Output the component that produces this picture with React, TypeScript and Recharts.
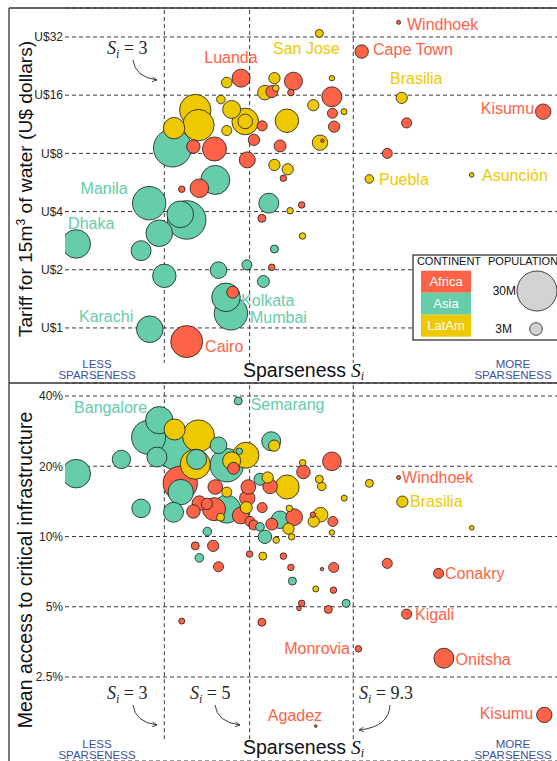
import { ScatterChart, Scatter, XAxis, YAxis, ZAxis, CartesianGrid, ReferenceLine } from 'recharts'

type Continent = 'Africa' | 'Asia' | 'LatAm'
type Row = [number, number, number] // [sparseness, value, population in millions]
type LabelRow = [string, number, number, 'start' | 'middle' | 'end', Continent]

const COLORS: Record<Continent, string> = { Africa: '#FF6347', Asia: '#66CDAA', LatAm: '#EEC900' }
const BLUE = '#3C4F9E'
const INK = '#262626'
const FONT = '"Liberation Sans", Arial, sans-serif'
const MATH = '"Liberation Serif", "DejaVu Serif", serif'

const W = 557
const TOP_H = 383
const BOTTOM_H = 378

const sparsenessDomain = [1.655, 31.5]
const thresholds = [3, 5, 9.3]

const tariffDomain = [0.519, 45.2]
const tariffTicks = [1, 2, 4, 8, 16, 32]
const accessDomain = [1.0915, 45.48]
const accessTicks = [2.5, 5, 10, 20, 40]

const MAX_POP = 30
const MAX_R = 20
const legendPops = [30, 3]

// tariff (U$) panel
const tariffAfrica: Row[] = [
  [12.2, 38.1, 0.3], [9.78, 26.9, 3.4], [4.75, 19.6, 6.1], [6.5, 18.9, 6.1], [6.4, 16.5, 0.8],
  [5.71, 16.7, 2.7], [8.18, 15.7, 7.5], [8.21, 12.9, 1.9], [8.29, 11.0, 2.4], [5.39, 11.1, 1.9],
  [5.13, 9.4, 2.4], [4.93, 7.4, 4.8], [3.57, 8.67, 3.4], [4.05, 8.43, 10.8], [6.0, 8.74, 2.7],
  [7.73, 9.31, 0.22], [6.12, 5.95, 0.8], [3.7, 5.28, 6.5], [3.33, 5.22, 0.8], [5.38, 3.69, 1.2],
  [6.83, 4.33, 0.8], [5.71, 2.06, 0.8], [4.52, 1.53, 2.7], [3.43, 0.85, 19.2], [12.8, 11.5, 1.9],
  [11.4, 8.0, 1.9], [29.0, 13.15, 4.45],
]
const tariffAsia: Row[] = [
  [3.15, 8.53, 27.1], [4.07, 5.83, 15.8], [2.74, 4.42, 20.9], [3.43, 3.62, 27.9], [3.3, 3.87, 13.3],
  [2.91, 3.09, 13.3], [1.77, 2.72, 15.3], [2.61, 2.51, 7.5], [3.0, 1.86, 10.3], [4.15, 1.99, 5.2],
  [4.92, 2.12, 1.9], [4.34, 1.44, 15.3], [4.47, 1.19, 20.9], [2.75, 0.985, 13.3], [5.61, 4.42, 7.5],
  [5.8, 2.56, 1.2], [5.43, 1.74, 2.7],
]
const tariffLatAm: Row[] = [
  [7.59, 33.4, 1.2], [4.36, 18.6, 2.1], [5.8, 19.6, 2.4], [5.48, 16.5, 4.0], [5.85, 17.4, 0.8],
  [8.18, 19.6, 0.55], [4.21, 15.2, 1.4], [3.61, 13.4, 18.5], [3.68, 11.2, 18.5], [3.18, 10.8, 8.6],
  [4.49, 13.5, 6.1], [4.87, 11.7, 13.3], [4.87, 11.7, 4.0], [4.36, 10.5, 1.9], [7.32, 14.2, 2.4],
  [8.8, 13.15, 0.68], [6.25, 11.8, 10.3], [7.62, 9.09, 4.45], [5.8, 6.97, 2.4], [6.28, 6.62, 2.4],
  [10.24, 5.9, 1.4], [18.9, 6.19, 0.4], [12.43, 15.5, 2.4], [6.37, 4.04, 0.8], [6.86, 2.99, 0.8],
]
const tariffLabels: LabelRow[] = [
  ['Windhoek', 12.83, 37.35, 'start', 'Africa'], ['Cape Town', 10.47, 27.74, 'start', 'Africa'],
  ['San Jose', 5.75, 28.07, 'start', 'LatAm'], ['Luanda', 3.81, 25.2, 'start', 'Africa'],
  ['Brasilia', 11.59, 19.64, 'start', 'LatAm'], ['Kisumu', 27.46, 13.74, 'end', 'Africa'],
  ['Puebla', 10.85, 5.9, 'start', 'LatAm'], ['Asunción', 20.11, 6.19, 'start', 'LatAm'],
  ['Manila', 2.41, 5.24, 'end', 'Asia'], ['Dhaka', 1.686, 3.49, 'start', 'Asia'],
  ['Karachi', 2.49, 1.154, 'end', 'Asia'], ['Kolkata', 4.75, 1.39, 'start', 'Asia'],
  ['Mumbai', 5.01, 1.14, 'start', 'Asia'], ['Cairo', 3.83, 0.807, 'start', 'Africa'],
]

// access (%) panel
const accessAfrica: Row[] = [
  [4.54, 19.6, 2.7], [8.18, 21.0, 6.5], [6.9, 18.9, 3.4], [3.3, 16.9, 22], [4.07, 16.3, 4.0],
  [4.96, 16.3, 4.0], [4.93, 14.6, 4.45], [5.39, 13.3, 1.9], [3.7, 13.9, 4.0], [3.87, 13.8, 2.4],
  [3.57, 12.8, 3.4], [4.04, 13.1, 9.9], [4.74, 12.3, 5.2], [5.65, 16.4, 4.0], [5.01, 11.6, 1.9],
  [5.13, 11.2, 1.9], [5.71, 11.3, 2.7], [6.53, 12.1, 5.2], [7.3, 12.4, 0.55], [8.23, 11.6, 1.9],
  [3.61, 9.12, 1.2], [4.02, 9.12, 2.4], [4.15, 7.42, 1.9], [5.0, 8.41, 0.8], [6.12, 8.24, 0.8],
  [6.4, 7.37, 0.8], [7.71, 7.25, 0.22], [8.27, 7.37, 1.9], [8.26, 5.89, 0.8], [6.83, 5.17, 0.8],
  [6.72, 4.92, 0.4], [8.01, 4.87, 1.2], [11.4, 7.67, 1.9], [15.5, 6.95, 1.9], [12.8, 4.65, 1.9],
  [9.59, 3.3, 0.8], [16.0, 3.01, 7.5], [7.43, 1.54, 0.13], [29.2, 1.72, 4.45], [3.33, 4.34, 0.68],
  [5.38, 4.29, 1.2], [12.2, 17.9, 0.3],
]
const accessAsia: Row[] = [
  [4.67, 38.1, 1.2], [1.77, 18.6, 15.3], [2.32, 21.4, 6.3], [2.61, 13.2, 6.5], [2.91, 31.5, 14],
  [2.73, 26.6, 21.7], [2.87, 21.9, 7.5], [3.24, 23.4, 30], [3.64, 21.4, 7.5], [4.15, 24.6, 5.2],
  [4.36, 20.2, 20.9], [4.7, 23.2, 0.8], [5.69, 25.6, 6.8], [3.31, 15.5, 12.1], [3.17, 12.7, 7.5],
  [4.36, 13.1, 14.7], [5.32, 17.6, 2.7], [5.32, 11.0, 1.4], [6.0, 11.8, 5.8], [5.48, 9.97, 3.4],
  [3.88, 10.5, 1.4], [3.7, 8.1, 1.4], [6.46, 6.44, 1.2], [8.91, 5.17, 1.2],
]
const accessLatAm: Row[] = [
  [3.19, 28.75, 8.3], [3.68, 27.0, 19.2], [3.61, 20.4, 16.9], [4.89, 22.3, 12.7], [4.49, 21.1, 6.1],
  [5.79, 24.5, 2.4], [6.87, 20.7, 0.8], [7.59, 17.6, 1.2], [7.7, 16.4, 1.4], [8.81, 14.6, 0.68],
  [5.57, 17.9, 2.4], [6.26, 16.3, 10.8], [4.36, 15.5, 1.9], [4.9, 13.3, 2.7], [4.2, 12.1, 1.2],
  [6.34, 13.2, 0.8], [7.65, 12.4, 4.0], [7.34, 11.6, 2.4], [8.18, 10.4, 0.55], [6.31, 10.8, 2.4],
  [6.43, 9.97, 0.8], [5.86, 9.65, 0.8], [5.41, 8.24, 1.2], [7.43, 5.96, 0.68], [10.24, 16.9, 1.2],
  [12.48, 14.1, 2.4], [18.9, 10.9, 0.4],
]
const accessLabels: LabelRow[] = [
  ['Bangalore', 2.705, 35.9, 'end', 'Asia'], ['Semarang', 5.03, 36.9, 'start', 'Asia'],
  ['Windhoek', 12.46, 17.96, 'start', 'Africa'], ['Brasilia', 13.07, 14.19, 'start', 'LatAm'],
  ['Conakry', 16.11, 6.95, 'start', 'Africa'], ['Kigali', 13.46, 4.65, 'start', 'Africa'],
  ['Monrovia', 9.12, 3.3, 'end', 'Africa'], ['Onitsha', 17.16, 2.98, 'start', 'Africa'],
  ['Agadez', 6.56, 1.72, 'middle', 'Africa'], ['Kisumu', 27.29, 1.75, 'end', 'Africa'],
]

function toPoints(africa: Row[], asia: Row[], latam: Row[]) {
  const tag = (rows: Row[], continent: Continent) => rows.map(([s, v, pop]) => ({ s, v, pop, continent }))
  // big bubbles first so small ones stay visible
  return [...tag(africa, 'Africa'), ...tag(asia, 'Asia'), ...tag(latam, 'LatAm')].sort((a, b) => b.pop - a.pop)
}

function toLabels(rows: LabelRow[]) {
  return rows.map(([name, s, v, anchor, continent]) => ({ name, s, v, anchor, continent }))
}

const popRadius = (pop: number) => MAX_R * Math.sqrt(pop / MAX_POP)

function renderBubble(props: any) {
  const { cx, cy, width, size, payload } = props
  if (cx == null || cy == null) return <g />
  const r = width ? width / 2 : Math.sqrt((size ?? 0) / Math.PI)
  return <circle cx={cx} cy={cy} r={r} fill={COLORS[payload.continent as Continent]} stroke="#1a1a1a" strokeWidth={0.8} />
}

function renderLabel(props: any) {
  const { cx, cy, payload } = props
  if (cx == null || cy == null) return <g />
  return (
    <text x={cx} y={cy} dy="0.35em" textAnchor={payload.anchor} fontSize={16} fontFamily={FONT} fill={COLORS[payload.continent as Continent]}>
      {payload.name}
    </text>
  )
}

interface PanelProps {
  height: number
  marginTop: number
  points: ReturnType<typeof toPoints>
  labels: ReturnType<typeof toLabels>
  yDomain: number[]
  yTicks: number[]
  yFormat: (v: number) => string
  lineSpan: [number, number]
}

function Panel({ height, marginTop, points, labels, yDomain, yTicks, yFormat, lineSpan }: PanelProps) {
  return (
    <ScatterChart width={W} height={height} margin={{ top: marginTop, right: 0, bottom: 0, left: 9 }}>
      <CartesianGrid vertical={false} stroke="#3a3a3a" strokeDasharray="4 3" />
      <XAxis type="number" dataKey="s" scale="log" domain={sparsenessDomain} allowDataOverflow hide />
      <YAxis
        type="number"
        dataKey="v"
        scale="log"
        domain={yDomain}
        allowDataOverflow
        ticks={yTicks}
        interval={0}
        tickFormatter={yFormat}
        width={56}
        axisLine={false}
        tickLine={false}
        tickSize={0}
        tickMargin={2}
        tick={{ fontSize: 12, fill: INK, fontFamily: FONT }}
      />
      <ZAxis type="number" dataKey="pop" domain={[0, MAX_POP]} range={[0, Math.PI * MAX_R * MAX_R]} />
      {thresholds.map((t) => (
        <ReferenceLine
          key={t}
          segment={[{ x: t, y: lineSpan[0] }, { x: t, y: lineSpan[1] }]}
          stroke="#3a3a3a"
          strokeDasharray="4 3"
        />
      ))}
      <Scatter data={points} shape={renderBubble} isAnimationActive={false} />
      <Scatter data={labels} shape={renderLabel} isAnimationActive={false} />
    </ScatterChart>
  )
}

function SiNote({ x, y, value }: { x: number; y: number; value: string }) {
  return (
    <text x={x} y={y} fontFamily={MATH} fontSize={18} fill={INK}>
      <tspan fontStyle="italic">S</tspan>
      <tspan fontStyle="italic" fontSize={12} dy={4}>i</tspan>
      <tspan dy={-4}>{'\u00a0=\u00a0' + value}</tspan>
    </text>
  )
}

function SparsenessTitle({ y }: { y: number }) {
  return (
    <text x={243} y={y} fontFamily={FONT} fontSize={19.5} fill="#111">
      Sparseness
      <tspan fontFamily={MATH} fontStyle="italic" dx={5}>S</tspan>
      <tspan fontFamily={MATH} fontStyle="italic" fontSize={12} dy={3}>i</tspan>
    </text>
  )
}

function SideNotes({ y }: { y: number }) {
  const t = { fontFamily: FONT, fontSize: 11.5, fill: BLUE, textAnchor: 'middle' as const }
  return (
    <g>
      <text x={97} y={y} {...t}>LESS</text>
      <text x={97} y={y + 11} {...t}>SPARSENESS</text>
      <text x={513} y={y} {...t}>MORE</text>
      <text x={513} y={y + 11} {...t}>SPARSENESS</text>
    </g>
  )
}

function Overlay() {
  const continents: Continent[] = ['Africa', 'Asia', 'LatAm']
  return (
    <svg width={W} height={761} style={{ position: 'absolute', left: 0, top: 0, pointerEvents: 'none' }}>
      <defs>
        <marker id="arrow" viewBox="0 0 8 8" refX="7" refY="4" markerWidth="7" markerHeight="7" orient="auto">
          <path d="M1,1 L7,4 L1,7" fill="none" stroke={INK} strokeWidth={1} />
        </marker>
      </defs>

      {/* frame */}
      <line x1={9} y1={8} x2={W} y2={8} stroke="#333" strokeWidth={1.3} />
      <line x1={9} y1={8} x2={9} y2={761} stroke="#333" strokeWidth={1.3} />
      <line x1={9} y1={383} x2={W} y2={383} stroke="#333" strokeWidth={1.3} />

      {/* axis titles */}
      <text transform="translate(32,189) rotate(-90)" textAnchor="middle" fontFamily={FONT} fontSize={19.2} fill="#111">
        Tariff for 15m<tspan fontSize={12} dy={-7}>3</tspan><tspan dy={7}> of water (U$ dollars)</tspan>
      </text>
      <text transform="translate(32,570) rotate(-90)" textAnchor="middle" fontFamily={FONT} fontSize={19.5} fill="#111">
        Mean access to critical infrastructure
      </text>
      <SparsenessTitle y={377} />
      <SparsenessTitle y={754} />
      <SideNotes y={368} />
      <SideNotes y={748} />

      {/* threshold notes */}
      <SiNote x={107} y={54} value="3" />
      <path d="M133,60 Q135,77 157,80" fill="none" stroke={INK} strokeWidth={0.9} markerEnd="url(#arrow)" />
      <SiNote x={107} y={699} value="3" />
      <path d="M133,705 Q135,722 157,725" fill="none" stroke={INK} strokeWidth={0.9} markerEnd="url(#arrow)" />
      <SiNote x={190} y={699} value="5" />
      <path d="M215,705 Q217,722 240,725" fill="none" stroke={INK} strokeWidth={0.9} markerEnd="url(#arrow)" />
      <SiNote x={359} y={699} value="9.3" />
      <path d="M390,705 Q389,727 359,730" fill="none" stroke={INK} strokeWidth={0.9} markerEnd="url(#arrow)" />

      {/* legend */}
      <rect x={413} y={255} width={160} height={85} fill="#fff" stroke="#333" strokeWidth={1.3} />
      <text x={449} y={265} textAnchor="middle" fontFamily={FONT} fontSize={11} fill="#111">CONTINENT</text>
      <text x={488} y={265} fontFamily={FONT} fontSize={11} fill="#111">POPULATION</text>
      {continents.map((c, i) => (
        <g key={c}>
          <rect x={421} y={270.7 + i * 22} width={50} height={22} fill={COLORS[c]} />
          <text x={446} y={281.7 + i * 22} dy="0.35em" textAnchor="middle" fontFamily={FONT} fontSize={13} fill="#fff">{c}</text>
        </g>
      ))}
      {legendPops.map((p, i) => {
        const cy = i === 0 ? 291 : 329
        return (
          <g key={p}>
            <circle cx={537 - i} cy={cy} r={popRadius(p)} fill="#D3D3D3" stroke="#1a1a1a" strokeWidth={0.8} />
            <text x={i === 0 ? 516 : 512} y={cy} dy="0.35em" textAnchor="end" fontFamily={FONT} fontSize={12} fill="#111">{p}M</text>
          </g>
        )
      })}
    </svg>
  )
}

export default function App() {
  const tariffPoints = toPoints(tariffAfrica, tariffAsia, tariffLatAm)
  const accessPoints = toPoints(accessAfrica, accessAsia, accessLatAm)
  return (
    <div style={{ position: 'absolute', left: 0, top: 0, width: W, height: 761, overflow: 'hidden', background: '#fff' }}>
      <div style={{ position: 'absolute', left: 0, top: 0 }}>
        <Panel
          height={TOP_H}
          marginTop={8}
          points={tariffPoints}
          labels={toLabels(tariffLabels)}
          yDomain={tariffDomain}
          yTicks={tariffTicks}
          yFormat={(v) => `U$${v}`}
          lineSpan={[44.1, 0.659]}
        />
      </div>
      <div style={{ position: 'absolute', left: 0, top: TOP_H }}>
        <Panel
          height={BOTTOM_H}
          marginTop={0}
          points={accessPoints}
          labels={toLabels(accessLabels)}
          yDomain={accessDomain}
          yTicks={accessTicks}
          yFormat={(v) => `${v}%`}
          lineSpan={[44.5, 1.34]}
        />
      </div>
      <Overlay />
    </div>
  )
}
